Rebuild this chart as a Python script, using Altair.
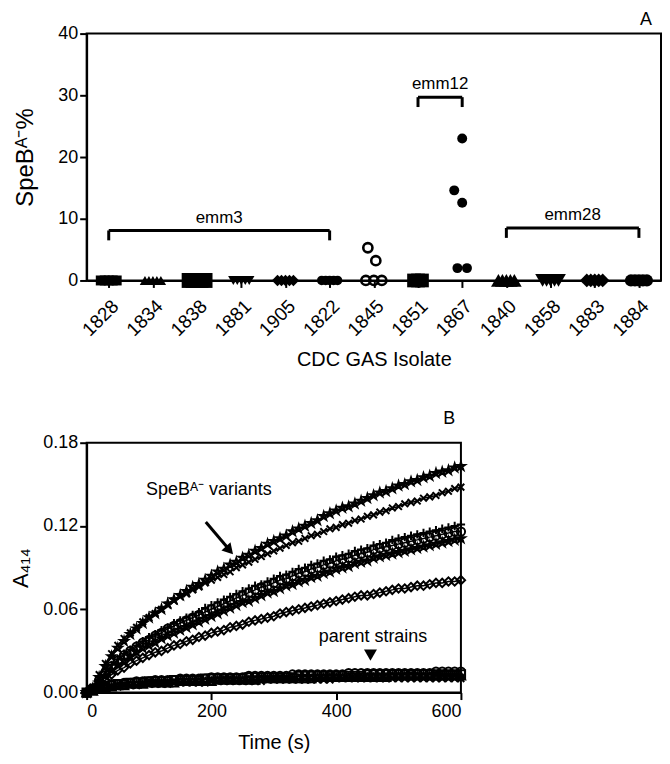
import json
import altair as alt
import pandas as pd

FONT = "Liberation Sans"

# ---------------- Panel A data ----------------
isolates = ["1828", "1834", "1838", "1881", "1905", "1822", "1845",
            "1851", "1867", "1840", "1858", "1883", "1884"]

pct_1828 = [0, 0, 0, 0, 0]
pct_1834 = [0, 0, 0, 0, 0]
pct_1838 = [0, 0, 0, 0, 0]
pct_1881 = [0, 0, 0, 0, 0]
pct_1905 = [0, 0, 0, 0, 0]
pct_1822 = [0, 0, 0, 0, 0]
pct_1845 = [0, 0, 0, 3.2, 5.3]
pct_1851 = [0, 0, 0]
pct_1867 = [23.0, 14.6, 12.6, 2.0, 2.0]
pct_1840 = [0, 0, 0, 0, 0]
pct_1858 = [0, 0, 0, 0, 0]
pct_1883 = [0, 0, 0, 0, 0]
pct_1884 = [0, 0, 0, 0, 0]

values_a = [pct_1828, pct_1834, pct_1838, pct_1881, pct_1905, pct_1822,
            pct_1845, pct_1851, pct_1867, pct_1840, pct_1858, pct_1883, pct_1884]

# scatter spread (replicate slot) inside each isolate column
spread_default = [-2, -1, 0, 1, 2]
spread_1845 = [-2, 0, 2, 0.5, -1.5]
spread_1851 = [-1, 0, 1]
spread_1867 = [0, -2, 0, -1.2, 1.2]

groups = ["emm3", "emm12", "emm28"]
group_first = [0, 7, 9]
group_last = [5, 8, 12]
group_level = [8.1, 29.7, 8.5]

shapes_a = ["square", "triangle-up", "square", "triangle-down", "diamond", "circle",
            "circle", "square", "circle", "triangle-up", "triangle-down", "diamond", "circle"]
sizes_a = [100, 110, 225, 110, 130, 90, 100, 190, 100, 220, 220, 190, 150]

rows = []
for i, iso in enumerate(isolates):
    sp = {"1845": spread_1845, "1851": spread_1851, "1867": spread_1867}.get(iso, spread_default)
    for v, s in zip(values_a[i], sp):
        rows.append({"isolate": iso, "idx": i, "pct": v, "spread": s})
df_a = pd.DataFrame(rows)

br_rows = []
tick_rows = []
for g, a, b, lv in zip(groups, group_first, group_last, group_level):
    br_rows.append({"grp": g, "x0": a, "x1": b, "mid": (a + b) / 2, "lvl": lv})
    for xx in (a, b):
        tick_rows.append({"grp": g, "x": xx, "top": lv, "bot": lv - 1.6})
df_br = pd.DataFrame(br_rows)
df_tk = pd.DataFrame(tick_rows)

label_expr = json.dumps(isolates) + "[datum.value]"

xA = alt.X("xpos:Q", scale=alt.Scale(domain=[-0.5, 12.5], nice=False, zero=False),
           axis=alt.Axis(values=list(range(13)), labelExpr=label_expr, labelAngle=-45,
                         labelFontSize=19, labelOverlap=False, title="CDC GAS Isolate",
                         titleFontSize=20, titlePadding=10, labelPadding=9))
yA = alt.Y("pct:Q", scale=alt.Scale(domain=[0, 40], nice=False),
           axis=alt.Axis(values=[0, 10, 20, 30, 40], title="SpeBᴬ⁻%", titleFontSize=24,
                         labelFontSize=18, titlePadding=20))

baseA = alt.Chart(df_a).transform_calculate(xpos="datum.idx + datum.spread * 0.09")

filled_pts = baseA.transform_filter("datum.isolate != '1845'").mark_point(
    filled=True, color="black", opacity=1).encode(
    x=xA, y=yA,
    shape=alt.Shape("isolate:N", scale=alt.Scale(domain=isolates, range=shapes_a), legend=None),
    size=alt.Size("isolate:N", scale=alt.Scale(type="ordinal", domain=isolates, range=sizes_a),
                  legend=None),
)
open_pts = baseA.transform_filter("datum.isolate == '1845'").mark_point(
    filled=False, color="black", strokeWidth=2.6, opacity=1, shape="circle", size=85).encode(
    x=xA, y=yA)

br_h = alt.Chart(df_br).mark_rule(color="black", strokeWidth=3).encode(
    x=alt.X("x0:Q"), x2="x1:Q", y=alt.Y("lvl:Q"))
br_v = alt.Chart(df_tk).mark_rule(color="black", strokeWidth=3).encode(
    x=alt.X("x:Q"), y=alt.Y("top:Q"), y2="bot:Q")
br_t = alt.Chart(df_br).mark_text(fontSize=17, font=FONT, color="black", baseline="alphabetic",
                                  dy=-8).encode(
    x=alt.X("mid:Q"), y=alt.Y("lvl:Q"), text="grp:N")

panelA = alt.layer(filled_pts, open_pts, br_h, br_v, br_t).properties(
    width=577, height=248,
    title=alt.TitleParams("A", anchor="end", fontSize=18, fontWeight="normal", font=FONT,
                          dx=-9, offset=-4, color="black"))

# ---------------- Panel B data ----------------
times = list(range(0, 610, 10))

v_star = [0.000, 0.003, 0.011, 0.019, 0.026, 0.032, 0.037, 0.042, 0.046, 0.050,
          0.054, 0.057, 0.060, 0.064, 0.067, 0.070, 0.073, 0.076, 0.078, 0.081,
          0.084, 0.087, 0.089, 0.092, 0.094, 0.097, 0.099, 0.102, 0.104, 0.107,
          0.109, 0.111, 0.113, 0.116, 0.118, 0.120, 0.122, 0.124, 0.127, 0.129,
          0.131, 0.133, 0.134, 0.136, 0.138, 0.140, 0.142, 0.144, 0.145, 0.147,
          0.149, 0.150, 0.152, 0.153, 0.155, 0.156, 0.158, 0.159, 0.160, 0.162,
          0.163]
v_cross = [0.000, 0.004, 0.013, 0.021, 0.028, 0.034, 0.039, 0.043, 0.047, 0.051,
           0.054, 0.057, 0.060, 0.063, 0.066, 0.069, 0.071, 0.074, 0.076, 0.079,
           0.081, 0.083, 0.085, 0.087, 0.090, 0.092, 0.094, 0.096, 0.098, 0.100,
           0.102, 0.104, 0.106, 0.108, 0.109, 0.111, 0.113, 0.114, 0.116, 0.118,
           0.119, 0.121, 0.122, 0.124, 0.125, 0.127, 0.128, 0.130, 0.131, 0.133,
           0.134, 0.136, 0.137, 0.138, 0.140, 0.141, 0.142, 0.144, 0.145, 0.147,
           0.148]
v_plus = [0.000, 0.003, 0.009, 0.015, 0.020, 0.024, 0.028, 0.031, 0.034, 0.037,
          0.040, 0.042, 0.045, 0.047, 0.050, 0.052, 0.054, 0.056, 0.058, 0.061,
          0.063, 0.065, 0.067, 0.069, 0.071, 0.073, 0.075, 0.077, 0.078, 0.080,
          0.082, 0.084, 0.085, 0.087, 0.089, 0.090, 0.092, 0.093, 0.095, 0.096,
          0.098, 0.099, 0.100, 0.102, 0.103, 0.104, 0.106, 0.107, 0.108, 0.110,
          0.111, 0.112, 0.113, 0.114, 0.115, 0.116, 0.117, 0.118, 0.119, 0.120,
          0.121]
v_circle = [0.000, 0.003, 0.009, 0.014, 0.019, 0.023, 0.027, 0.030, 0.033, 0.036,
            0.038, 0.041, 0.043, 0.046, 0.048, 0.050, 0.052, 0.054, 0.056, 0.058,
            0.060, 0.062, 0.064, 0.066, 0.068, 0.070, 0.072, 0.074, 0.076, 0.077,
            0.079, 0.081, 0.082, 0.084, 0.086, 0.087, 0.089, 0.090, 0.092, 0.093,
            0.095, 0.096, 0.097, 0.099, 0.100, 0.101, 0.103, 0.104, 0.105, 0.106,
            0.107, 0.108, 0.109, 0.110, 0.111, 0.112, 0.113, 0.114, 0.115, 0.116,
            0.116]
v_smallstar = [0.000, 0.002, 0.007, 0.012, 0.016, 0.020, 0.023, 0.026, 0.029, 0.032,
               0.034, 0.036, 0.039, 0.041, 0.043, 0.045, 0.047, 0.049, 0.051, 0.053,
               0.055, 0.057, 0.059, 0.061, 0.063, 0.065, 0.066, 0.068, 0.070, 0.072,
               0.073, 0.075, 0.077, 0.078, 0.080, 0.081, 0.083, 0.084, 0.086, 0.087,
               0.089, 0.090, 0.091, 0.093, 0.094, 0.095, 0.097, 0.098, 0.099, 0.100,
               0.101, 0.102, 0.103, 0.104, 0.105, 0.106, 0.107, 0.108, 0.109, 0.110,
               0.111]
v_diamond = [0.000, 0.002, 0.006, 0.009, 0.013, 0.016, 0.018, 0.021, 0.023, 0.025,
             0.027, 0.029, 0.030, 0.032, 0.034, 0.035, 0.037, 0.038, 0.040, 0.041,
             0.043, 0.044, 0.045, 0.047, 0.048, 0.049, 0.051, 0.052, 0.053, 0.054,
             0.055, 0.057, 0.058, 0.059, 0.060, 0.061, 0.062, 0.063, 0.064, 0.065,
             0.066, 0.067, 0.068, 0.069, 0.070, 0.070, 0.071, 0.072, 0.073, 0.074,
             0.075, 0.075, 0.076, 0.077, 0.077, 0.078, 0.079, 0.079, 0.080, 0.080,
             0.081]
p_circle = [0.000, 0.002, 0.004, 0.005, 0.006, 0.006, 0.007, 0.007, 0.008, 0.008,
            0.008, 0.009, 0.009, 0.009, 0.009, 0.010, 0.010, 0.010, 0.010, 0.010,
            0.011, 0.011, 0.011, 0.011, 0.011, 0.011, 0.012, 0.012, 0.012, 0.012,
            0.012, 0.012, 0.012, 0.013, 0.013, 0.013, 0.013, 0.013, 0.013, 0.013,
            0.013, 0.013, 0.014, 0.014, 0.014, 0.014, 0.014, 0.014, 0.014, 0.014,
            0.014, 0.014, 0.014, 0.014, 0.014, 0.014, 0.015, 0.015, 0.015, 0.015,
            0.015]
p_square = [0.000, 0.002, 0.003, 0.004, 0.005, 0.006, 0.006, 0.007, 0.007, 0.007,
            0.008, 0.008, 0.008, 0.008, 0.009, 0.009, 0.009, 0.009, 0.009, 0.010,
            0.010, 0.010, 0.010, 0.010, 0.010, 0.010, 0.011, 0.011, 0.011, 0.011,
            0.011, 0.011, 0.011, 0.011, 0.012, 0.012, 0.012, 0.012, 0.012, 0.012,
            0.012, 0.012, 0.012, 0.012, 0.012, 0.013, 0.013, 0.013, 0.013, 0.013,
            0.013, 0.013, 0.013, 0.013, 0.013, 0.013, 0.013, 0.013, 0.013, 0.013,
            0.013]
p_triangle = [0.000, 0.001, 0.003, 0.004, 0.004, 0.005, 0.005, 0.006, 0.006, 0.006,
              0.007, 0.007, 0.007, 0.007, 0.007, 0.008, 0.008, 0.008, 0.008, 0.008,
              0.008, 0.009, 0.009, 0.009, 0.009, 0.009, 0.009, 0.009, 0.010, 0.010,
              0.010, 0.010, 0.010, 0.010, 0.010, 0.010, 0.010, 0.011, 0.011, 0.011,
              0.011, 0.011, 0.011, 0.011, 0.011, 0.011, 0.011, 0.011, 0.011, 0.012,
              0.012, 0.012, 0.012, 0.012, 0.012, 0.012, 0.012, 0.012, 0.012, 0.012,
              0.012]
p_cross = [0.000, 0.001, 0.002, 0.003, 0.004, 0.004, 0.005, 0.005, 0.005, 0.006,
           0.006, 0.006, 0.006, 0.006, 0.007, 0.007, 0.007, 0.007, 0.007, 0.007,
           0.008, 0.008, 0.008, 0.008, 0.008, 0.008, 0.008, 0.008, 0.008, 0.009,
           0.009, 0.009, 0.009, 0.009, 0.009, 0.009, 0.009, 0.009, 0.009, 0.009,
           0.010, 0.010, 0.010, 0.010, 0.010, 0.010, 0.010, 0.010, 0.010, 0.010,
           0.010, 0.010, 0.010, 0.010, 0.010, 0.010, 0.010, 0.010, 0.010, 0.010,
           0.010]

series_names = ["V-star", "V-cross", "V-plus", "V-circle", "V-smallstar", "V-diamond",
                "P-circle", "P-square", "P-triangle", "P-cross"]
series_values = [v_star, v_cross, v_plus, v_circle, v_smallstar, v_diamond,
                 p_circle, p_square, p_triangle, p_cross]

STAR = "M0,-1L0.22,-0.31L0.95,-0.31L0.36,0.12L0.59,0.81L0,0.38L-0.59,0.81L-0.36,0.12L-0.95,-0.31L-0.22,-0.31Z"
XMARK = "M-0.8,-0.8L0.8,0.8M-0.8,0.8L0.8,-0.8"
PLUS = "M-1,0L1,0M0,-1L0,1"
series_shapes = [STAR, XMARK, PLUS, "circle", STAR, "diamond",
                 "circle", "square", "triangle-up", XMARK]

rowsB = []
for name, vals in zip(series_names, series_values):
    for t, v in zip(times, vals):
        rowsB.append({"series": name, "t": t, "v": v})
df_b = pd.DataFrame(rowsB)

xB = alt.X("t:Q", scale=alt.Scale(domain=[0, 600], nice=False),
           axis=alt.Axis(values=[0, 200, 400, 600], title="Time (s)", titleFontSize=20,
                         labelFontSize=18, titlePadding=12, labelPadding=3))
yB = alt.Y("v:Q", scale=alt.Scale(domain=[0, 0.18], nice=False),
           axis=alt.Axis(values=[0, 0.06, 0.12, 0.18], format=".2f", title="A₄₁₄",
                         titleFontSize=22, labelFontSize=18, titlePadding=10))

linesB = alt.Chart(df_b).mark_line(color="black", strokeWidth=1.5).encode(
    x=xB, y=yB, detail="series:N")
ptsB = alt.Chart(df_b).mark_point(filled=False, color="black", strokeWidth=2.0, opacity=1,
                                  size=70).encode(
    x=xB, y=yB,
    shape=alt.Shape("series:N", scale=alt.Scale(domain=series_names, range=series_shapes),
                    legend=None))

notes = pd.DataFrame({"label": ["SpeBᴬ⁻ variants", "parent strains"],
                      "t": [196, 459], "v": [0.1457, 0.040]})
notesB = alt.Chart(notes).mark_text(fontSize=18, font=FONT, color="black").encode(
    x="t:Q", y="v:Q", text="label:N")

arrow_line = pd.DataFrame({"t": [191], "v": [0.1229], "t2": [226], "v2": [0.1043]})
arrowB = alt.Chart(arrow_line).mark_rule(color="black", strokeWidth=3).encode(
    x="t:Q", y="v:Q", x2="t2:Q", y2="v2:Q")
head1 = alt.Chart(pd.DataFrame({"t": [229], "v": [0.1025]})).mark_point(
    shape="triangle-up", filled=True, color="black", opacity=1, size=150, angle=138).encode(
    x="t:Q", y="v:Q")
head2 = alt.Chart(pd.DataFrame({"t": [455], "v": [0.027]})).mark_point(
    shape="triangle-down", filled=True, color="black", opacity=1, size=170).encode(
    x="t:Q", y="v:Q")

panelB = alt.layer(linesB, ptsB, notesB, arrowB, head1, head2).properties(
    width=376, height=251,
    title=alt.TitleParams("B", anchor="end", fontSize=18, fontWeight="normal", font=FONT,
                          dx=-14, offset=6, color="black"))

chart = alt.vconcat(panelA, panelB, spacing=38).resolve_scale(
    shape="independent", size="independent"
).properties(
    padding={"left": 0, "top": 0, "right": 0, "bottom": 0}
).configure(font=FONT).configure_view(
    stroke="black", strokeWidth=2
).configure_axis(
    domainColor="black", domainWidth=2, tickColor="black", tickWidth=2, tickSize=7,
    labelColor="black", titleColor="black", labelFont=FONT, titleFont=FONT,
    grid=False, titleFontWeight="normal"
)

chart.save("out.html", embed_options={"renderer": "svg", "actions": False})
